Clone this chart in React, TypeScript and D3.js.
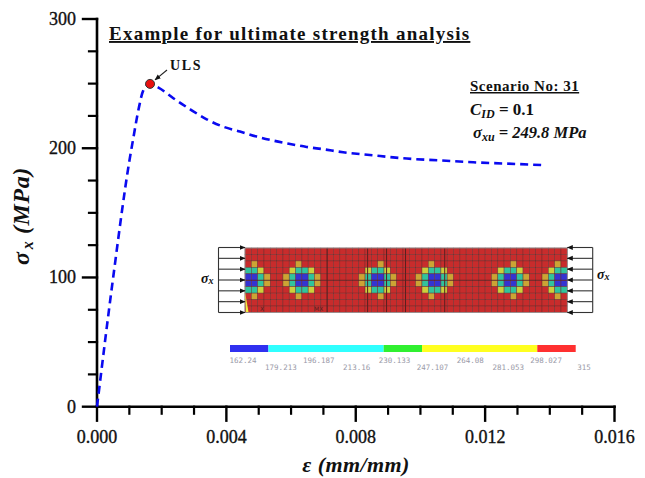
import React from "react";
import * as d3 from "d3";

const strain = [0, 0.0005, 0.001, 0.00111, 0.0013, 0.00142, 0.00164, 0.0019, 0.00236, 0.00288, 0.00339, 0.0039, 0.00442, 0.00494, 0.00545, 0.00597, 0.00648, 0.007, 0.00761, 0.00853, 0.00958, 0.0106, 0.01163, 0.01267, 0.01375];
const stress = [0, 100, 190, 206, 232, 244, 249.8, 246.9, 238.7, 230.1, 222.4, 216.7, 212.9, 209, 205.9, 203.3, 201, 199.2, 196.9, 194.5, 192, 190.6, 189.1, 188.1, 187];
const xMajor = [0, 0.004, 0.008, 0.012, 0.016];
const xMinor = [0.001, 0.002, 0.003, 0.005, 0.006, 0.007, 0.009, 0.01, 0.011, 0.013, 0.014, 0.015];
const yMajor = [0, 100, 200, 300];
const yMinor = [25, 50, 75, 125, 150, 175, 225, 250, 275];

// contour legend
const legendLabels = ["162.24", "179.213", "196.187", "213.16", "230.133", "247.107", "264.08", "281.053", "298.027", "315"];
const legendBandStart = [0, 1, 4, 5, 8];
const legendBandEnd = [1, 4, 5, 8, 9];
const legendBandColors = ["#3030f0", "#30ffff", "#30f030", "#ffff20", "#ff3030"];

// plate mesh: element columns and rows, first blue column of each hole
const meshCols = d3.range(51);
const meshRows = d3.range(10);
const holeCols = [0, 8, 20, 29, 41, 49];
const holeCapOffset = [1, 0, 1, 0, 1, 0];
const stiffenerCols = [13, 19.4, 22.4, 25.4, 31.6];
const arrowRows = [0, 1, 2, 3, 4, 5, 6];

const serif = "'Liberation Serif', 'DejaVu Serif', serif";

function cellColor(c: number, r: number) {
  for (let i = 0; i < holeCols.length; i++) {
    const d = c - holeCols[i];
    const inRing = d >= -1 && d <= 2 && r >= 3 && r <= 6;
    const inBlue = d >= 0 && d <= 1 && r >= 4 && r <= 5;
    if (inBlue) return "#3434d2";
    if (inRing) {
      const corner = (d === -1 || d === 2) && (r === 3 || r === 6);
      return corner ? "#ccd03c" : "#30c49c";
    }
    if ((d === -2 || d === 3) && r >= 4 && r <= 5) return "#cca434";
    if (d === holeCapOffset[i] && (r === 2 || r === 7)) return "#cca434";
  }
  return "#c82c2c";
}

export default function App() {
  const x = d3.scaleLinear().domain([0, 0.016]).range([97, 614.5]);
  const y = d3.scaleLinear().domain([0, 300]).range([406.7, 19]);
  const line = d3.line<number>().x((d) => x(d)).y((_, i) => y(stress[i])).curve(d3.curveMonotoneX);

  const plateX = d3.scaleLinear().domain([0, meshCols.length]).range([245, 567.3]);
  const plateY = d3.scaleLinear().domain([0, meshRows.length]).range([248, 312.5]);
  const bandX = d3.scaleLinear().domain([0, 9]).range([230, 575.7]);
  const labelX = d3.scaleLinear().domain([0, legendLabels.length - 1]).range([243, 584]);
  const arrowY = d3.scaleLinear().domain([0, 6]).range([247.5, 312.5]);
  const peakX = x(0.00164);
  const peakY = y(249.8);

  return (
    <svg width={645} height={478} style={{ position: "absolute", left: 0, top: 0, background: "#fff" }}>
      <defs>
        <marker id="ah" markerUnits="userSpaceOnUse" markerWidth="6" markerHeight="6" refX="5.5" refY="3" orient="auto">
          <path d="M0,0.5 L6,3 L0,5.5 Z" fill="#111" />
        </marker>
      </defs>

      {/* axes */}
      <g stroke="#000" fill="none" strokeLinecap="square">
        <line x1={x(0)} x2={x(0)} y1={y(0)} y2={y(300)} strokeWidth={2.6} />
        <line x1={x(0)} x2={x(0.016)} y1={y(0)} y2={y(0)} strokeWidth={2.6} />
        {xMajor.map((t) => <line key={t} x1={x(t)} x2={x(t)} y1={y(0)} y2={y(0) + 14} strokeWidth={2.4} />)}
        {xMinor.map((t) => <line key={t} x1={x(t)} x2={x(t)} y1={y(0)} y2={y(0) + 7} strokeWidth={2.2} />)}
        {yMajor.map((t) => <line key={t} x1={x(0)} x2={x(0) - 14} y1={y(t)} y2={y(t)} strokeWidth={2.4} />)}
        {yMinor.map((t) => <line key={t} x1={x(0)} x2={x(0) - 8} y1={y(t)} y2={y(t)} strokeWidth={2.2} />)}
      </g>
      <g fontFamily={serif} fontSize={18} textAnchor="middle" fill="#111" stroke="#111" strokeWidth={0.35}>
        {xMajor.map((t) => <text key={t} x={x(t)} y={y(0) + 36}>{t.toFixed(3)}</text>)}
      </g>
      <g fontFamily={serif} fontSize={18} textAnchor="end" fill="#111" stroke="#111" strokeWidth={0.35}>
        {yMajor.map((t) => <text key={t} x={76} y={y(t) + 6}>{t}</text>)}
      </g>
      <text x={356} y={472} textAnchor="middle" fontFamily={serif} fontSize={22} fontWeight="bold" fontStyle="italic" letterSpacing={0.4} fill="#111">ε (mm/mm)</text>
      <text transform="translate(29,216) rotate(-90)" textAnchor="middle" fontFamily={serif} fontSize={24} fontWeight="bold" fontStyle="italic" letterSpacing={0.6} fill="#111">σ<tspan fontSize={16} dy={4} dx={2}>x</tspan><tspan dy={-4}> (MPa)</tspan></text>

      {/* curve */}
      <path d={line(strain) ?? ""} fill="none" stroke="#0a0af0" strokeWidth={2.6} strokeDasharray="8 5" />
      <circle cx={peakX} cy={peakY} r={4.5} fill="#e81010" stroke="#333" strokeWidth={1} />
      <line x1={167} y1={70} x2={peakX + 5} y2={peakY - 4} stroke="#222" strokeWidth={1.1} markerEnd="url(#ah)" />
      <text x={170} y={70} fontFamily={serif} fontSize={14} fontWeight="bold" letterSpacing={1.6} fill="#111">ULS</text>

      {/* headings */}
      <text x={109} y={40} fontFamily={serif} fontSize={19} fontWeight="bold" letterSpacing={1.25} textDecoration="underline" fill="#111">Example for ultimate strength analysis</text>
      <text x={470} y={91} fontFamily={serif} fontSize={15} fontWeight="bold" letterSpacing={0.5} textDecoration="underline" fill="#111">Scenario No: 31</text>
      <text x={470} y={115} fontFamily={serif} fontSize={17} fill="#111"><tspan fontStyle="italic" fontWeight="bold">C</tspan><tspan fontStyle="italic" fontWeight="bold" fontSize={12} dy={3}>ID</tspan><tspan dy={-3} fontWeight="bold"> = 0.1</tspan></text>
      <text x={473} y={138} fontFamily={serif} fontSize={16.5} fontStyle="italic" fontWeight="bold" fill="#111">σ<tspan fontSize={12} dy={3}>xu</tspan><tspan dy={-3}> = 249.8 MPa</tspan></text>

      {/* plate model */}
      <g>
        {meshCols.map((c) => meshRows.map((r) => (
          <rect key={`${c}-${r}`} x={plateX(c)} y={plateY(r)} width={plateX(1) - plateX(0)} height={plateY(1) - plateY(0)} fill={cellColor(c, r)} stroke="#6a2c2c" strokeOpacity={0.85} strokeWidth={0.55} />
        )))}
        {stiffenerCols.map((c) => <line key={c} x1={plateX(c)} x2={plateX(c)} y1={plateY(0)} y2={plateY(10)} stroke="#5a2020" strokeWidth={1} />)}
        <line x1={plateX(0)} x2={plateX(51)} y1={plateY(5)} y2={plateY(5)} stroke="#5a2020" strokeOpacity={0.8} strokeWidth={0.8} />
        <rect x={plateX(0)} y={plateY(0)} width={plateX(51) - plateX(0)} height={plateY(10) - plateY(0)} fill="none" stroke="#999" strokeWidth={0.8} />
        <path d="M245,292 L246,312 L248.5,312 Z" fill="#f0f040" />
        <g fontFamily="'DejaVu Sans', sans-serif" fontSize={6} fill="#5a2020">
          <text x={260} y={311}>X</text>
          <text x={314} y={311}>MX</text>
        </g>
      </g>
      <g stroke="#333" strokeWidth={1.1} fill="none">
        <line x1={218.5} x2={218.5} y1={247.5} y2={312.5} />
        <line x1={592.7} x2={592.7} y1={247.5} y2={312.5} />
        {arrowRows.map((i) => <line key={i} x1={218.5} x2={245} y1={arrowY(i)} y2={arrowY(i)} markerEnd="url(#ah)" />)}
        {arrowRows.map((i) => <line key={i} x1={592.7} x2={567.3} y1={arrowY(i)} y2={arrowY(i)} markerEnd="url(#ah)" />)}
      </g>
      <text x={201} y={283} fontFamily={serif} fontSize={14} fontWeight="bold" fontStyle="italic" fill="#111">σ<tspan fontSize={10} dy={1}>x</tspan></text>
      <text x={597} y={279} fontFamily={serif} fontSize={14} fontWeight="bold" fontStyle="italic" fill="#111">σ<tspan fontSize={10} dy={1}>x</tspan></text>

      {/* legend */}
      {legendBandStart.map((b, i) => (
        <rect key={b} x={bandX(b)} y={345} width={bandX(legendBandEnd[i]) - bandX(b)} height={7} fill={legendBandColors[i]} />
      ))}
      <g fontFamily="'DejaVu Sans Mono', monospace" fontSize={7.5} textAnchor="middle" fill="#9a9aa8">
        {legendLabels.map((l, i) => (
          <text key={l} x={labelX(i)} y={i % 2 === 0 ? 363 : 370}>{l}</text>
        ))}
      </g>
    </svg>
  );
}
